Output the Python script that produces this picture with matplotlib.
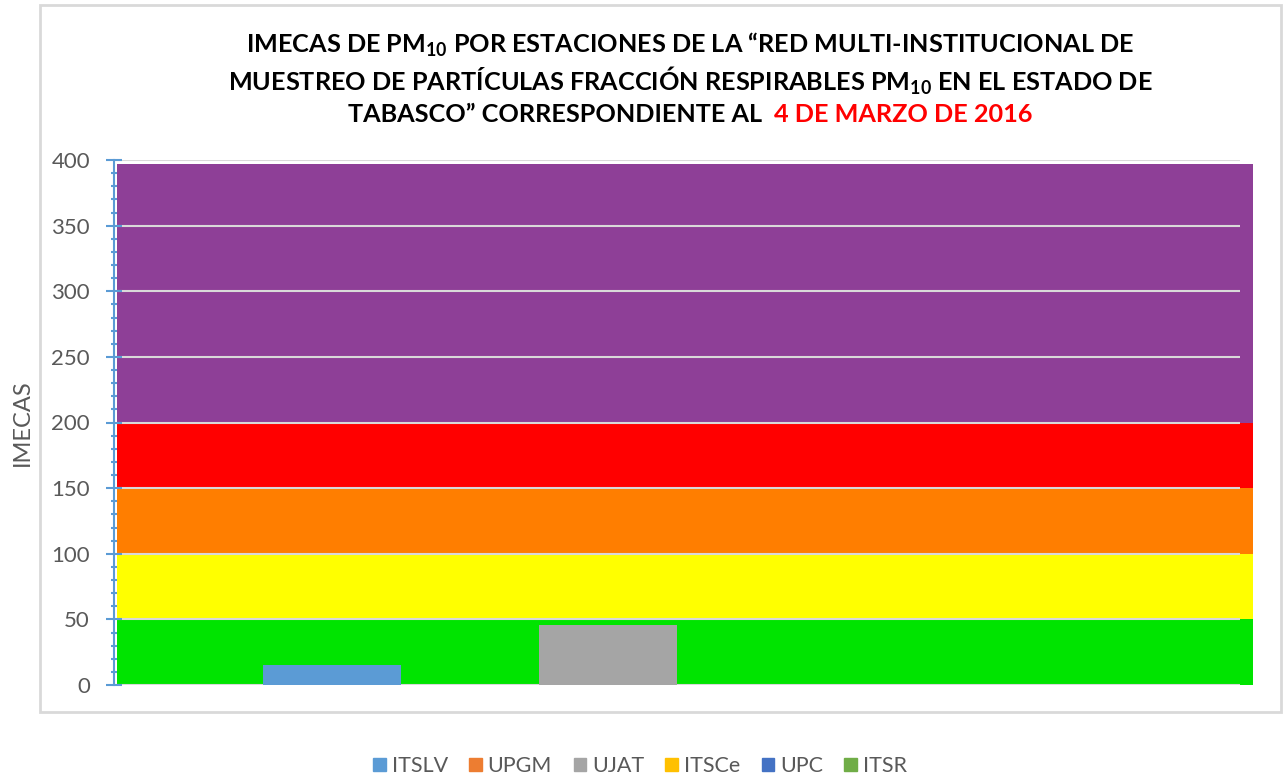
import numpy as np
import matplotlib.pyplot as plt
from matplotlib.patches import Rectangle
from matplotlib.ticker import MultipleLocator

plt.rcParams['font.family'] = ['Lato', 'DejaVu Sans']
plt.rcParams['mathtext.fontset'] = 'custom'
plt.rcParams['mathtext.rm'] = 'Lato'
plt.rcParams['mathtext.bf'] = 'Lato:bold'

# datos
estaciones = ['ITSLV', 'UPGM', 'UJAT', 'ITSCe', 'UPC', 'ITSR']
imecas = [15, 0, 46, 0, 0, 0]
colores = ['#5b9bd5', '#ed7d31', '#a5a5a5', '#ffc000', '#4472c4', '#70ad47']

# bandas de calidad del aire
limites = [0, 50, 100, 150, 200, 397]
colores_banda = ['#00e400', '#ffff00', '#ff7e00', '#ff0000', '#8e3f97']

gris = '#595959'
azul_eje = '#5b9bd5'

fig = plt.figure(figsize=(12.83, 7.79), dpi=100)
W, H = 1283, 779

# marco exterior
fig.patches.append(Rectangle((40 / W, 1 - 712 / H), 1241 / W, 707 / H,
                             transform=fig.transFigure, fill=False,
                             edgecolor='#d9d9d9', linewidth=2))

ax = fig.add_axes([117 / W, 1 - 685 / H, (1240 - 117) / W, 525 / H])

# bandas (se extienden un poco a la derecha de la cuadricula)
ext = (1253 - 117) / (1240 - 117)
for i in range(len(colores_banda)):
    ax.add_patch(Rectangle((0, limites[i]), ext, limites[i + 1] - limites[i],
                           transform=ax.get_yaxis_transform(),
                           facecolor=colores_banda[i], edgecolor='none',
                           clip_on=False, zorder=0))

# barras agrupadas, una sola categoria
ancho = 138 / (1240 - 117)
n = len(estaciones)
centro = 0.5 - 2 / (1240 - 117)
for i in range(n):
    if imecas[i] > 0:
        ax.bar(centro + (i - (n - 1) / 2) * ancho, imecas[i], width=ancho,
               color=colores[i], zorder=3)

ax.set_xlim(0, 1)
ax.set_ylim(0, 400)
ax.yaxis.set_major_locator(MultipleLocator(50))
ax.yaxis.set_minor_locator(MultipleLocator(10))
ax.set_xticks([])
ax.grid(axis='y', color='#d9d9d9', linewidth=1.5, zorder=1)
for l in ax.get_ygridlines():
    l.set_zorder(1)
for s in ['top', 'right', 'bottom']:
    ax.spines[s].set_visible(False)
ax.spines['left'].set_color(azul_eje)
ax.spines['left'].set_linewidth(1.5)
ax.spines['left'].set_position(('outward', 2))
ax.tick_params(axis='y', which='major', direction='inout', length=11,
               width=1.5, color=azul_eje, labelcolor=gris, labelsize=16, pad=12)
ax.tick_params(axis='y', which='minor', direction='inout', length=4,
               width=1.5, color=azul_eje)
ax.set_ylabel('IMECAS', color=gris, fontsize=17)
ax.yaxis.set_label_coords(-(117 - 33) / (1240 - 117), 0.5)
ax.set_facecolor('none')

# titulo
tam = 18.2
fig.text(690 / W, 1 - 45 / H,
         r'IMECAS DE PM$_{\mathbf{10}}$ POR ESTACIONES DE LA “RED MULTI-INSTITUCIONAL DE',
         ha='center', va='center', fontsize=tam, fontweight='bold')
fig.text(690 / W, 1 - 81 / H,
         r'MUESTREO DE PARTÍCULAS FRACCIÓN RESPIRABLES PM$_{\mathbf{10}}$ EN EL ESTADO DE',
         ha='center', va='center', fontsize=tam, fontweight='bold')
t1 = fig.text(0, 1 - 115 / H, 'TABASCO” CORRESPONDIENTE AL  ',
              ha='left', va='center', fontsize=tam, fontweight='bold')
t2 = fig.text(0, 1 - 115 / H, '4 DE MARZO DE 2016',
              ha='left', va='center', fontsize=tam, fontweight='bold', color='#ff0000')
r = fig.canvas.get_renderer()
w1 = t1.get_window_extent(r).width
w2 = t2.get_window_extent(r).width
x0 = 690 - (w1 + w2) / 2
t1.set_x(x0 / W)
t2.set_x((x0 + w1) / W)

# leyenda
handles = [Rectangle((0, 0), 1, 1, color=c) for c in colores]
fig.legend(handles, estaciones, loc='center', bbox_to_anchor=(640 / W, 1 - 766 / H),
           ncol=6, frameon=False, fontsize=15.5, labelcolor=gris,
           handlelength=0.6, handleheight=0.6, handletextpad=0.25, columnspacing=1.0)

fig.savefig('out.png', dpi=100)
